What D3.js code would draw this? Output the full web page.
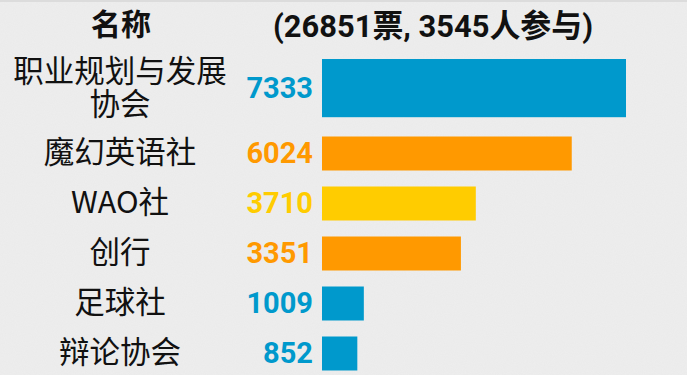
<!DOCTYPE html>
<html>
<head>
<meta charset="utf-8">
<script src="https://cdn.jsdelivr.net/npm/d3@7/dist/d3.min.js"></script>
<style>
  html, body { margin: 0; padding: 0; background: #fff; }
  svg { display: block; }
</style>
</head>
<body>
<script>
// data
var names = [["职业规划与发展", "协会"], ["魔幻英语社"], ["WAO社"], ["创行"], ["足球社"], ["辩论协会"]];
var votes = [7333, 6024, 3710, 3351, 1009, 852];
var colors = ["#0099cc", "#ff9900", "#ffcc00", "#ff9900", "#0099cc", "#0099cc"];
var headName = "名称";
var headTotal = "(26851票, 3545人参与)";

var w = 687, h = 380;
var barLeft = 322;

var svg = d3.select("body").append("svg")
    .attr("width", w)
    .attr("height", h);

// background with a light paper grain
var defs = svg.append("defs");
var grain = defs.append("filter").attr("id", "grain")
    .attr("x", 0).attr("y", 0).attr("width", "100%").attr("height", "100%");
grain.append("feTurbulence")
    .attr("type", "fractalNoise").attr("baseFrequency", 0.9)
    .attr("numOctaves", 2).attr("seed", 3).attr("result", "n");
grain.append("feColorMatrix")
    .attr("type", "matrix")
    .attr("values", "0 0 0 0 0.6  0 0 0 0 0.6  0 0 0 0 0.6  0 0 0 0.12 0");

svg.append("rect").attr("width", w).attr("height", 375).attr("fill", "#eeeeee");
svg.append("rect").attr("width", w).attr("height", 375).attr("filter", "url(#grain)");
svg.append("rect").attr("width", w).attr("height", 2).attr("fill", "#dcdcdc");

// rows: the first label wraps onto two lines, so its row is taller
var weights = names.map(function(n) { return n.length > 1 ? 1.55 : 1; });
var starts = [];
var acc = 0;
weights.forEach(function(v) { starts.push(acc); acc += v; });

var y = d3.scaleLinear().domain([0, acc]).range([59, 59 + acc * 50]);
var x = d3.scaleLinear().domain([0, 7333]).range([0, 304]);

var rows = votes.map(function(v, i) {
  var top = y(starts[i]);
  var bottom = y(starts[i] + 0.68 + (weights[i] - 1) * 0.88);
  return { name: names[i], value: v, color: colors[i], top: top, bottom: bottom, mid: (top + bottom) / 2 - 1 };
});

var chart = svg.append("g");

chart.selectAll(".bar")
  .data(rows)
  .enter().append("rect")
    .attr("class", "bar")
    .attr("x", barLeft)
    .attr("y", function(d) { return d.top; })
    .attr("width", function(d) { return x(d.value); })
    .attr("height", function(d) { return d.bottom - d.top; })
    .attr("fill", function(d) { return d.color; });

chart.selectAll(".val")
  .data(rows)
  .enter().append("text")
    .attr("class", "val")
    .attr("x", 313)
    .attr("y", function(d) { return d.mid; })
    .attr("dy", "0.36em")
    .attr("text-anchor", "end")
    .style("font-family", "Roboto, 'Noto Sans'")
    .style("font-weight", "bold")
    .style("font-size", "29px")
    .attr("fill", function(d) { return d.color; })
    .text(function(d) { return d.value; });

var lab = chart.selectAll(".lab")
  .data(rows)
  .enter().append("text")
    .attr("class", "lab")
    .attr("text-anchor", "middle")
    .style("font-family", "'Noto Sans CJK SC'")
    .style("font-size", "30.5px")
    .attr("fill", "#111");

lab.selectAll("tspan")
  .data(function(d) {
    return d.name.map(function(s, j) {
      return { s: s, y: d.mid + (j - (d.name.length - 1) / 2) * 33 };
    });
  })
  .enter().append("tspan")
    .attr("x", 120)
    .attr("y", function(t) { return t.y; })
    .attr("dy", "0.36em")
    .text(function(t) { return t.s; });

// header
var head = svg.append("g")
    .style("font-family", "Roboto, 'Noto Sans CJK SC'")
    .style("font-weight", "bold")
    .attr("fill", "#111");
head.append("text").attr("x", 121).attr("y", 24).attr("dy", "0.36em")
    .style("font-size", "30px")
    .attr("text-anchor", "middle").text(headName);
head.append("text").attr("x", 433).attr("y", 25).attr("dy", "0.36em")
    .style("font-size", "32px")
    .attr("textLength", 320).attr("lengthAdjust", "spacingAndGlyphs")
    .attr("text-anchor", "middle").text(headTotal);
</script>
</body>
</html>
